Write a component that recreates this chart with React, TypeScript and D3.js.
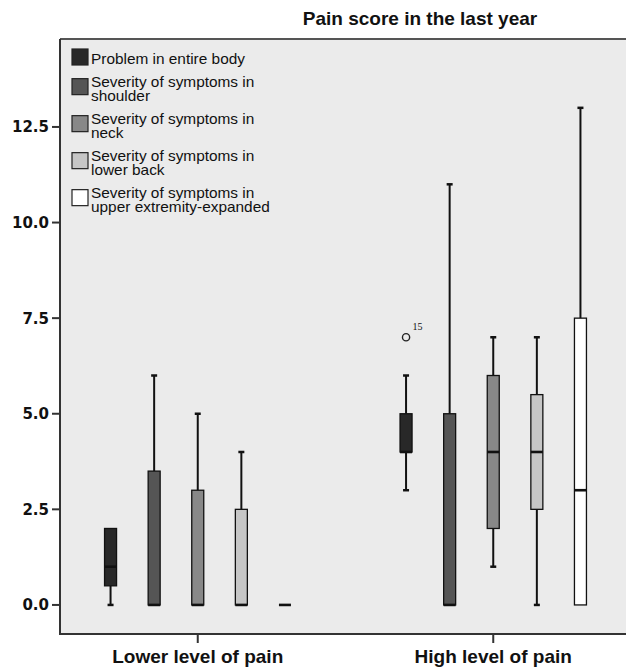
import React from "react";
import * as d3 from "d3";

const categories = ["Lower level of pain", "High level of pain"];
const seriesNames = [
  "Problem in entire body",
  "Severity of symptoms in shoulder",
  "Severity of symptoms in neck",
  "Severity of symptoms in lower back",
  "Severity of symptoms in upper extremity-expanded",
];
const legendLines = [
  ["Problem in entire body"],
  ["Severity of symptoms in", "shoulder"],
  ["Severity of symptoms in", "neck"],
  ["Severity of symptoms in", "lower back"],
  ["Severity of symptoms in", "upper extremity-expanded"],
];
const seriesColors = ["#282828", "#555555", "#888888", "#c6c6c6", "#ffffff"];

// box statistics per category (index matches categories), per series
const mins = [
  [0, 0, 0, 0, 0],
  [3, 0, 1, 0, 0],
];
const q1s = [
  [0.5, 0, 0, 0, 0],
  [4, 0, 2, 2.5, 0],
];
const medians = [
  [1, 0, 0, 0, 0],
  [4, 0, 4, 4, 3],
];
const q3s = [
  [2, 3.5, 3, 2.5, 0],
  [5, 5, 6, 5.5, 7.5],
];
const maxs = [
  [2, 6, 5, 4, 0],
  [6, 11, 7, 7, 13],
];
const outlierCategory = [1];
const outlierSeries = [0];
const outlierValues = [7];
const outlierLabels = ["15"];

const yTicks = [0, 2.5, 5, 7.5, 10, 12.5];
const title = "Pain score in the last year";

const W = 626;
const H = 669;
const plotLeft = 60;
const plotRight = 626;
const plotTop = 39;
const plotBottom = 634;

export default function App() {
  const y = d3.scaleLinear().domain([-0.76, 14.8]).range([plotBottom, plotTop]);
  const x = d3.scaleBand().domain(categories).range([50, 641]).paddingInner(0);
  const xi = d3.scaleBand().domain(seriesNames).range([-109, 109]);
  const boxW = 12;
  const capW = 6;
  const fmt = d3.format(".1f");
  const sans = "'Liberation Sans', Arial, sans-serif";

  const lineH = 14.7;
  const legendScaleX = 1.1;
  const legendTextX = 91;
  let base = 64.5;
  const legendItems = legendLines.map((lines, i) => {
    const b1 = base;
    const bLast = base + (lines.length - 1) * lineH;
    const center = (b1 - 11 + bLast) / 2;
    base = bLast + lineH + 7.6;
    return { lines, b1, swY: center - 10, color: seriesColors[i] };
  });

  return (
    <svg
      width={W}
      height={H}
      style={{ position: "absolute", left: 0, top: 0, background: "#fff" }}
    >
      <rect
        x={plotLeft}
        y={plotTop}
        width={plotRight - plotLeft}
        height={plotBottom - plotTop}
        fill="#ebebeb"
      />
      <text
        x={420}
        y={25}
        textAnchor="middle"
        fontFamily={sans}
        fontWeight="bold"
        fontSize={19}
        fill="#111"
      >
        {title}
      </text>
      {/* frame */}
      <line x1={plotLeft} x2={plotRight} y1={plotTop} y2={plotTop} stroke="#555" strokeWidth={2} />
      <line x1={plotLeft} x2={plotLeft} y1={plotTop} y2={plotBottom} stroke="#333" strokeWidth={2} />
      <line x1={plotLeft - 1} x2={plotRight} y1={plotBottom} y2={plotBottom} stroke="#333" strokeWidth={2} />
      {/* y ticks */}
      {yTicks.map((t) => (
        <g key={t}>
          <line x1={plotLeft - 8} x2={plotLeft} y1={y(t)} y2={y(t)} stroke="#333" strokeWidth={2} />
          <text
            x={49}
            y={y(t)}
            dy="0.36em"
            textAnchor="end"
            fontFamily="'DejaVu Sans', Verdana, sans-serif"
            fontWeight="bold"
            fontSize={15}
            fill="#111"
          >
            {fmt(t)}
          </text>
        </g>
      ))}
      {/* x ticks and labels */}
      {categories.map((c) => {
        const cx = (x(c) as number) + x.bandwidth() / 2;
        return (
          <g key={c}>
            <line x1={cx} x2={cx} y1={plotBottom} y2={plotBottom + 9} stroke="#333" strokeWidth={2} />
            <text
              x={cx}
              y={663}
              textAnchor="middle"
              fontFamily={sans}
              fontWeight="bold"
              fontSize={19}
              fill="#111"
            >
              {c}
            </text>
          </g>
        );
      })}
      {/* boxes */}
      {categories.map((c, ci) => {
        const cx0 = (x(c) as number) + x.bandwidth() / 2;
        return seriesNames.map((s, si) => {
          const cx = cx0 + (xi(s) as number) + xi.bandwidth() / 2;
          const mn = mins[ci][si];
          const mx = maxs[ci][si];
          const a = q1s[ci][si];
          const b = q3s[ci][si];
          const m = medians[ci][si];
          return (
            <g key={c + s}>
              {mx > b && (
                <>
                  <line x1={cx} x2={cx} y1={y(b)} y2={y(mx)} stroke="#111" strokeWidth={2} />
                  <line x1={cx - capW / 2} x2={cx + capW / 2} y1={y(mx)} y2={y(mx)} stroke="#111" strokeWidth={2.5} />
                </>
              )}
              {mn < a && (
                <>
                  <line x1={cx} x2={cx} y1={y(a)} y2={y(mn)} stroke="#111" strokeWidth={2} />
                  <line x1={cx - capW / 2} x2={cx + capW / 2} y1={y(mn)} y2={y(mn)} stroke="#111" strokeWidth={2.5} />
                </>
              )}
              <rect
                x={cx - boxW / 2}
                y={y(b)}
                width={boxW}
                height={y(a) - y(b)}
                fill={seriesColors[si]}
                stroke="#111"
                strokeWidth={1.3}
              />
              <line
                x1={cx - boxW / 2}
                x2={cx + boxW / 2}
                y1={y(m)}
                y2={y(m)}
                stroke="#111"
                strokeWidth={2.6}
              />
            </g>
          );
        });
      })}
      {/* outliers */}
      {outlierValues.map((v, i) => {
        const c = categories[outlierCategory[i]];
        const s = seriesNames[outlierSeries[i]];
        const cx = (x(c) as number) + x.bandwidth() / 2 + (xi(s) as number) + xi.bandwidth() / 2;
        return (
          <g key={"o" + i}>
            <circle cx={cx} cy={y(v)} r={3.6} fill="none" stroke="#222" strokeWidth={1.4} />
            <text
              x={cx + 6.5}
              y={y(v) - 7.5}
              fontFamily="'Liberation Serif', 'DejaVu Serif', serif"
              fontSize={10}
              fill="#111"
            >
              {outlierLabels[i]}
            </text>
          </g>
        );
      })}
      {/* legend */}
      {legendItems.map((it, i) => (
        <g key={"l" + i}>
          <rect x={72} y={it.swY} width={16} height={16} fill={it.color} stroke="#222" strokeWidth={1.2} />
          <g transform={`translate(${legendTextX},0) scale(${legendScaleX},1)`}>
            <text x={0} y={it.b1} fontFamily={sans} fontSize={14} fill="#111">
              {it.lines.map((ln, k) => (
                <tspan key={k} x={0} dy={k === 0 ? 0 : lineH}>
                  {ln}
                </tspan>
              ))}
            </text>
          </g>
        </g>
      ))}
    </svg>
  );
}
